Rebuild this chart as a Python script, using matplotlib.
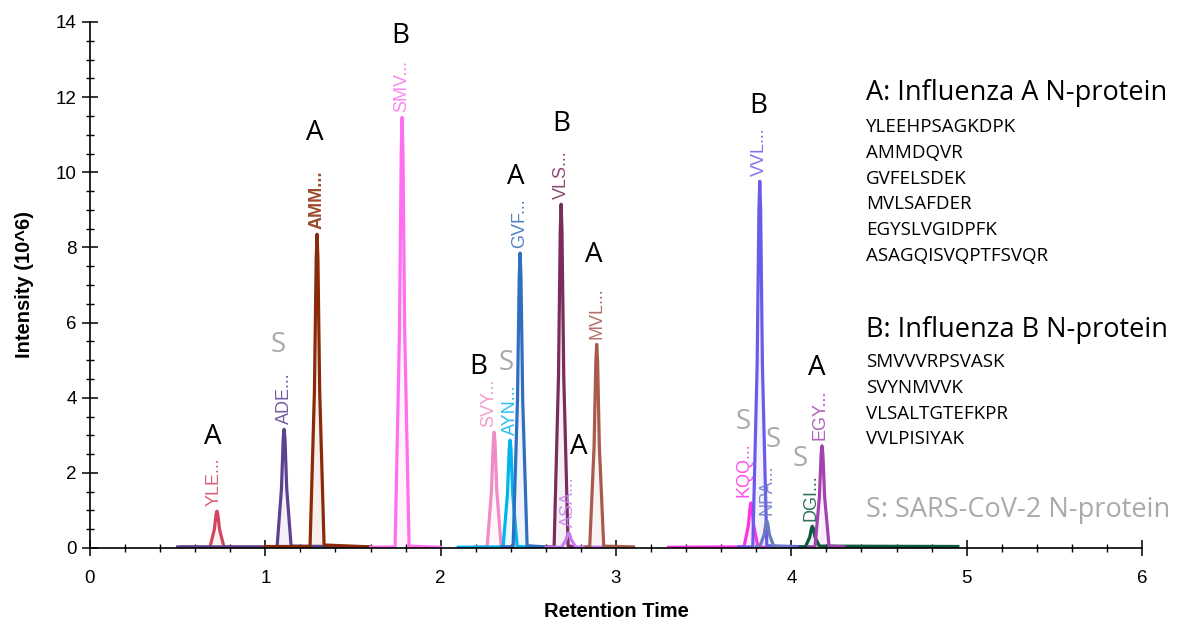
import matplotlib
matplotlib.use("Agg")
import matplotlib.pyplot as plt
from matplotlib.ticker import MultipleLocator

# ---------------- data ----------------
peptides = ["YLE", "ADE", "AMM", "SMV", "SVY", "AYN", "GVF", "VLS",
            "ASA", "MVL", "KQQ", "VVL", "NPA", "DGI", "EGY"]
groups = ["A", "S", "A", "B", "B", "S", "A", "B", "A", "A", "S", "B", "S", "S", "A"]

yle_t = [0.52, 0.684, 0.709, 0.719, 0.724, 0.729, 0.739, 0.764, 1.00]
yle_i = [0.03, 0.02, 0.49, 0.90, 0.98, 0.90, 0.49, 0.03, 0.02]
ade_t = [0.50, 1.067, 1.092, 1.102, 1.107, 1.112, 1.122, 1.147, 1.60]
ade_i = [0.03, 0.03, 1.58, 2.91, 3.16, 2.91, 1.58, 0.05, 0.03]
amm_t = [1.00, 1.255, 1.280, 1.290, 1.295, 1.300, 1.310, 1.335, 1.60]
amm_i = [0.04, 0.04, 4.18, 7.68, 8.35, 7.68, 4.18, 0.08, 0.03]
smv_t = [1.60, 1.740, 1.765, 1.775, 1.780, 1.785, 1.795, 1.820, 2.00]
smv_i = [0.02, 0.03, 5.73, 10.54, 11.46, 10.54, 5.73, 0.05, 0.02]
svy_t = [2.20, 2.265, 2.290, 2.300, 2.305, 2.310, 2.320, 2.345, 2.40]
svy_i = [0.03, 0.03, 1.54, 2.83, 3.08, 2.83, 1.54, 0.05, 0.03]
ayn_t = [2.10, 2.356, 2.381, 2.391, 2.396, 2.401, 2.411, 2.436, 2.60]
ayn_i = [0.02, 0.03, 1.44, 2.64, 2.87, 2.64, 1.44, 0.04, 0.02]
gvf_t = [2.35, 2.413, 2.438, 2.448, 2.453, 2.458, 2.468, 2.493, 2.60]
gvf_i = [0.03, 0.03, 3.93, 7.22, 7.85, 7.22, 3.93, 0.06, 0.03]
vls_t = [2.60, 2.647, 2.672, 2.682, 2.687, 2.692, 2.702, 2.727, 2.76]
vls_i = [0.03, 0.03, 4.58, 8.42, 9.15, 8.42, 4.58, 0.06, 0.03]
asa_t = [2.60, 2.690, 2.715, 2.725, 2.730, 2.735, 2.745, 2.770, 3.00]
asa_i = [0.02, 0.02, 0.22, 0.37, 0.40, 0.37, 0.22, 0.03, 0.02]
mvl_t = [2.83, 2.850, 2.875, 2.885, 2.890, 2.895, 2.905, 2.930, 3.10]
mvl_i = [0.03, 0.03, 2.71, 4.99, 5.42, 4.99, 2.71, 0.05, 0.03]
kqq_t = [3.30, 3.730, 3.755, 3.765, 3.770, 3.775, 3.785, 3.810, 3.85]
kqq_i = [0.02, 0.03, 0.60, 1.10, 1.20, 1.10, 0.60, 0.03, 0.02]
vvl_t = [3.70, 3.780, 3.805, 3.815, 3.820, 3.825, 3.835, 3.860, 4.10]
vvl_i = [0.03, 0.03, 4.88, 8.98, 9.76, 8.98, 4.88, 0.06, 0.03]
npa_t = [3.80, 3.820, 3.845, 3.855, 3.860, 3.865, 3.875, 3.900, 4.00]
npa_i = [0.03, 0.03, 0.36, 0.66, 0.72, 0.66, 0.36, 0.04, 0.03]
dgi_t = [4.05, 4.080, 4.105, 4.115, 4.120, 4.125, 4.135, 4.160, 4.95]
dgi_i = [0.03, 0.03, 0.29, 0.53, 0.58, 0.53, 0.29, 0.05, 0.04]
egy_t = [4.10, 4.135, 4.160, 4.170, 4.175, 4.180, 4.190, 4.215, 4.30]
egy_i = [0.03, 0.03, 1.36, 2.50, 2.72, 2.50, 1.36, 0.05, 0.03]

times = [yle_t, ade_t, amm_t, smv_t, svy_t, ayn_t, gvf_t, vls_t,
         asa_t, mvl_t, kqq_t, vvl_t, npa_t, dgi_t, egy_t]
intens = [yle_i, ade_i, amm_i, smv_i, svy_i, ayn_i, gvf_i, vls_i,
          asa_i, mvl_i, kqq_i, vvl_i, npa_i, dgi_i, egy_i]

seq_a = ["YLEEHPSAGKDPK", "AMMDQVR", "GVFELSDEK", "MVLSAFDER",
         "EGYSLVGIDPFK", "ASAGQISVQPTFSVQR"]
seq_b = ["SMVVVRPSVASK", "SVYNMVVK", "VLSALTGTEFKPR", "VVLPISIYAK"]

# ---------------- styling ----------------
colors = ["#d2475d", "#5e4290", "#8a2a08", "#ff6ff0", "#f08bc4", "#00b4f0",
          "#2f6fc0", "#7a2c5c", "#c47ef2", "#a85a4c", "#ff33e6", "#6a5ce8",
          "#6a7cc0", "#0b5a40", "#a542b2"]
# (dx px for peptide label, dx px for letter, dy px for letter above apex)
lab_dx = [-3, 0, 0, 0, -5, 0, 0, 0, 0, 0, -7, 0, 0, -1, -2]
let_dx = [-4, -6, -2, -2, -16, -4, -4, 0, 10, -3, -8, -2, 6, -12, -5]
let_dy = [74, 84, 101, 81, 65, 77, 76, 80, 86, 89, 81, 75, 81, 67, 78]

fig = plt.figure(figsize=(11.89, 6.20), dpi=100)
ax = fig.add_axes([90 / 1189, 72 / 620, 1052 / 1189, 526 / 620])

for t, y, c in zip(times, intens, colors):
    ax.fill_between(t, 0, y, color=c, alpha=0.07, lw=0)
    ax.plot(t, y, color=c, lw=2.3, solid_joinstyle="round")

for k, (pep, grp, c) in enumerate(zip(peptides, groups, colors)):
    x0 = times[k][4]
    y0 = intens[k][4]
    ax.annotate(pep + "...", xy=(x0, y0), xytext=(lab_dx[k] * 0.72, 4),
                textcoords="offset points", rotation=90, ha="center",
                va="bottom", color=c, alpha=0.85, fontsize=13,
                fontfamily="Liberation Sans",
                fontweight="bold" if pep == "AMM" else "normal")
    lc = "#aaaaaa" if grp == "S" else "black"
    ax.annotate(grp, xy=(x0, y0), xytext=(let_dx[k] * 0.72, let_dy[k] * 0.72),
                textcoords="offset points", ha="center", va="center",
                color=lc, fontsize=20, fontfamily="Open Sans")

ax.set_xlim(0, 6)
ax.set_ylim(0, 14)
ax.xaxis.set_major_locator(MultipleLocator(1))
ax.xaxis.set_minor_locator(MultipleLocator(0.2))
ax.yaxis.set_major_locator(MultipleLocator(2))
ax.yaxis.set_minor_locator(MultipleLocator(0.5))
for s in ["top", "right"]:
    ax.spines[s].set_visible(False)
for s in ["left", "bottom"]:
    ax.spines[s].set_linewidth(1.2)
ax.tick_params(which="major", direction="inout", length=11, width=1.1,
               labelsize=13.5, pad=4)
ax.tick_params(which="minor", direction="inout", length=6, width=1.0)
for lbl in ax.get_xticklabels() + ax.get_yticklabels():
    lbl.set_fontfamily("Liberation Sans")
ax.tick_params(axis="x", pad=10)
ax.set_xlabel("Retention Time", fontsize=14.5, fontweight="bold",
              fontfamily="Liberation Sans", labelpad=11)
ax.set_ylabel("Intensity (10^6)", fontsize=14.5, fontweight="bold",
              fontfamily="Liberation Sans", labelpad=16)

# right side legend text
fx = 866 / 1189
fig.text(fx, 1 - 93 / 620, "A: Influenza A N-protein", fontsize=19.5,
         fontfamily="Open Sans", va="center", ha="left")
for j, s in enumerate(seq_a):
    fig.text(fx, 1 - (127 + 25.8 * j) / 620, s, fontsize=13.5,
             fontfamily="Open Sans", va="center", ha="left")
fig.text(fx, 1 - 330 / 620, "B: Influenza B N-protein", fontsize=19.5,
         fontfamily="Open Sans", va="center", ha="left")
for j, s in enumerate(seq_b):
    fig.text(fx, 1 - (362 + 25.8 * j) / 620, s, fontsize=13.5,
             fontfamily="Open Sans", va="center", ha="left")
fig.text(fx, 1 - 510 / 620, "S: SARS-CoV-2 N-protein", fontsize=19.5,
         fontfamily="Open Sans", va="center", ha="left", color="#aaaaaa")

fig.savefig("out.png", dpi=100)
